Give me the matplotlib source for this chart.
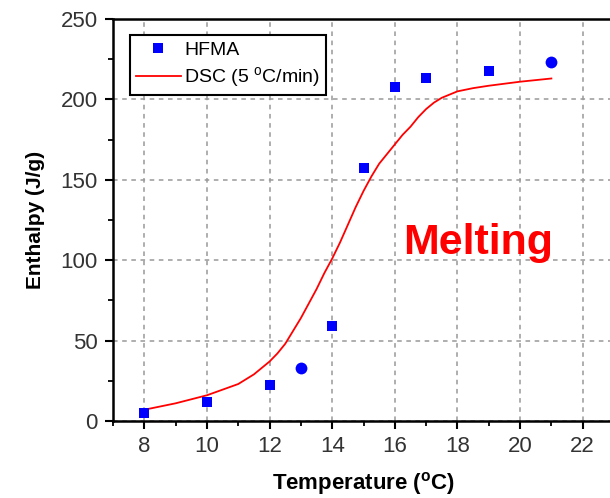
import numpy as np
import matplotlib
matplotlib.use("Agg")
import matplotlib.pyplot as plt
from matplotlib.lines import Line2D
from matplotlib.ticker import MultipleLocator

plt.rcParams['font.family'] = ['Liberation Sans', 'DejaVu Sans']

# HFMA measurements
hfma_sq_t = [8, 10, 12, 14, 15, 16, 17, 19]
hfma_sq_h = [5, 12, 22.5, 59, 157.5, 207.5, 213, 217.5]
hfma_ci_t = [13, 21]
hfma_ci_h = [33, 223]

# DSC curve (5 C/min)
dsc_t = [8, 9, 10, 11, 11.5, 12, 12.25, 12.5, 12.75, 13, 13.25, 13.5, 13.75, 14, 14.25,
         14.5, 14.75, 15, 15.25, 15.5, 15.75, 16, 16.25, 16.5, 16.75, 17, 17.25, 17.5,
         17.75, 18, 18.5, 19, 20, 21]
dsc_h = [7, 11, 16, 23, 29, 37, 42, 48, 56, 64, 73, 82, 92, 101, 111,
         122, 133, 143, 152, 160, 166, 172, 178, 183, 189, 194, 198, 201,
         203, 205, 207, 208.5, 211, 213]

fig = plt.figure(figsize=(6.1, 4.98), dpi=100)
ax = fig.add_axes([113/610, 77/498, 501/610, 402/498])

ax.plot(dsc_t, dsc_h, color='#ff0000', lw=1.3, zorder=3)
ax.plot(hfma_sq_t, hfma_sq_h, 's', color='#0000ff', ms=7.5, mew=0, zorder=4)
ax.plot(hfma_ci_t, hfma_ci_h, 'o', color='#0000ff', ms=8.5, mew=0, zorder=4)

ax.set_xlim(7, 23)
ax.set_ylim(0, 250)
ax.xaxis.set_major_locator(MultipleLocator(2))
ax.xaxis.set_minor_locator(MultipleLocator(1))
ax.yaxis.set_major_locator(MultipleLocator(50))
ax.yaxis.set_minor_locator(MultipleLocator(25))
ax.grid(True, which='major', color='#999999', ls=(0, (3, 3)), lw=1.1)
ax.set_axisbelow(True)

for s in ['left', 'bottom', 'top']:
    ax.spines[s].set_linewidth(1.8)
ax.spines['right'].set_visible(False)
ax.tick_params(which='major', direction='out', length=6, width=1.5,
               labelsize=16, labelcolor='#333333', pad=5)
ax.tick_params(which='minor', direction='out', length=3.5, width=1.3)

ax.set_xlabel('Temperature ($\\mathregular{^oC}$)', fontsize=16, fontweight='bold', labelpad=9)
ax.set_ylabel('Enthalpy (J/g)', fontsize=15, fontweight='bold', labelpad=11)

ax.text(16.25, 111, 'Melting', color='#ff0000', fontsize=31, fontweight='bold',
        va='center', ha='left')

handles = [Line2D([], [], ls='none', marker='s', color='#0000ff', ms=7.5, mew=0),
           Line2D([], [], color='#ff0000', lw=1.3)]
leg = ax.legend(handles, ['HFMA', 'DSC (5 $\\mathregular{^oC}$/min)'], loc='upper left',
                bbox_to_anchor=(0.034, 0.96), fontsize=14, fancybox=False,
                framealpha=1, edgecolor='black', borderpad=0.3, handlelength=2.3,
                handletextpad=0.2, labelspacing=0.35, borderaxespad=0)
leg.get_frame().set_linewidth(1.5)

fig.savefig('out.png', dpi=100)
